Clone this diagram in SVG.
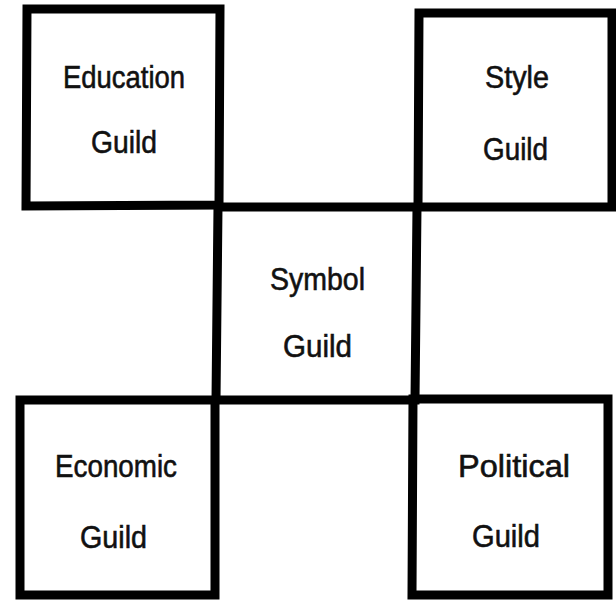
<svg xmlns="http://www.w3.org/2000/svg" width="616" height="600" viewBox="0 0 616 600">
<style>
.box{fill:none;stroke:#000;stroke-width:9;stroke-linejoin:miter}
.lbl{font-family:"Liberation Sans",Arial,sans-serif;font-size:32px;fill:#111;stroke:#111;stroke-width:0.6}
</style>
<rect width="616" height="600" fill="#fff"/>
<g id="symbol">
<path class="box" d="M218,207 L417,207 L415,400 L216,400 Z"/>
<text class="lbl" x="270" y="290" textLength="95" lengthAdjust="spacingAndGlyphs">Symbol</text>
<text class="lbl" x="283" y="357" textLength="69" lengthAdjust="spacingAndGlyphs">Guild</text>
</g>
<g id="education">
<path class="box" d="M27,9 L220,9 L219,205 L26,206 Z"/>
<text class="lbl" x="63" y="88" textLength="122" lengthAdjust="spacingAndGlyphs">Education</text>
<text class="lbl" x="91" y="153" textLength="66" lengthAdjust="spacingAndGlyphs">Guild</text>
</g>
<g id="style">
<path class="box" d="M419,13 L612,13 L612,207 L418,207 Z"/>
<text class="lbl" x="485" y="88" textLength="64" lengthAdjust="spacingAndGlyphs">Style</text>
<text class="lbl" x="483" y="160" textLength="65" lengthAdjust="spacingAndGlyphs">Guild</text>
</g>
<g id="economic">
<path class="box" d="M20,400 L215,400 L215,595 L20,595 Z"/>
<text class="lbl" x="55" y="477" textLength="122" lengthAdjust="spacingAndGlyphs">Economic</text>
<text class="lbl" x="80" y="548" textLength="67" lengthAdjust="spacingAndGlyphs">Guild</text>
</g>
<g id="political">
<path class="box" d="M413,399 L608,399 L608,595 L412,595 Z"/>
<text class="lbl" x="458" y="477" textLength="112" lengthAdjust="spacingAndGlyphs">Political</text>
<text class="lbl" x="472" y="547" textLength="68" lengthAdjust="spacingAndGlyphs">Guild</text>
</g>
<g id="connectors"></g>
</svg>
